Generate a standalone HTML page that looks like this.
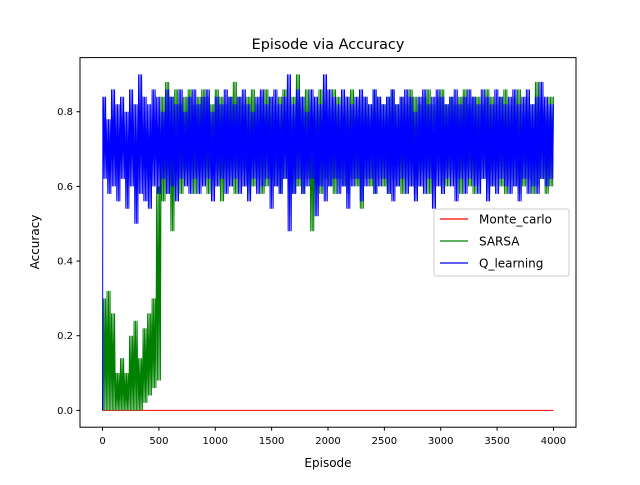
<!DOCTYPE html>
<html><head><meta charset="utf-8"><style>
body{margin:0;background:#fff;}
svg text{font-family:"DejaVu Sans","Liberation Sans",sans-serif;fill:#000;}
</style></head><body>
<svg id="chart" width="640" height="480" xmlns="http://www.w3.org/2000/svg">
<rect width="640" height="480" fill="#fff"/>
<text x="328" y="49" font-size="14.4" text-anchor="middle">Episode via Accuracy</text>
<g id="plot"></g>
<rect x="80" y="57.6" width="496" height="369.6" fill="none" stroke="#000" stroke-width="1"/>
<g id="xticks"></g><g id="yticks"></g>
<text x="328" y="467" font-size="12" text-anchor="middle">Episode</text>
<text transform="translate(39,242) rotate(-90)" font-size="12" text-anchor="middle">Accuracy</text>
<g id="legend">
<rect x="434" y="209" width="135" height="67" rx="2" fill="#fff" fill-opacity="0.8" stroke="#ccc"/>
<line x1="440" y1="219" x2="468" y2="219" stroke="red" stroke-width="1.2"/>
<text x="479" y="223.5" font-size="12">Monte_carlo</text>
<line x1="440" y1="241" x2="468" y2="241" stroke="green" stroke-width="1.2"/>
<text x="479" y="245.5" font-size="12">SARSA</text>
<line x1="440" y1="263" x2="468" y2="263" stroke="blue" stroke-width="1.2"/>
<text x="479" y="267.5" font-size="12">Q_learning</text>
</g>
</svg>
<script>
const xTicks=[0,500,1000,1500,2000,2500,3000,3500,4000];
const yTicks=[0.0,0.2,0.4,0.6,0.8];
const binSize=40;
const monteEpisodes=[0,4000];
const monteValues=[0,0];
const qStart=0.0;
const qHigh=[0.84,0.78,0.86,0.82,0.84,0.80,0.86,0.82,0.90,0.84,
0.82,0.86,0.84,0.80,0.86,0.84,0.82,0.86,0.80,0.84,
0.86,0.82,0.84,0.86,0.80,0.84,0.82,0.86,0.84,0.82,
0.84,0.86,0.82,0.80,0.84,0.86,0.82,0.84,0.86,0.82,
0.84,0.90,0.82,0.86,0.84,0.80,0.86,0.84,0.82,0.90,
0.86,0.84,0.82,0.86,0.84,0.82,0.84,0.86,0.84,0.82,
0.86,0.84,0.82,0.84,0.86,0.82,0.84,0.86,0.84,0.80,
0.84,0.86,0.82,0.84,0.86,0.84,0.82,0.84,0.86,0.82,
0.84,0.86,0.84,0.82,0.86,0.84,0.82,0.86,0.84,0.82,
0.84,0.86,0.82,0.84,0.86,0.82,0.84,0.88,0.84,0.82];
const qLow=[0.62,0.58,0.60,0.56,0.62,0.54,0.60,0.50,0.58,0.56,
0.54,0.60,0.58,0.62,0.58,0.60,0.56,0.62,0.60,0.58,
0.62,0.58,0.60,0.62,0.56,0.60,0.62,0.58,0.60,0.62,
0.58,0.60,0.56,0.62,0.58,0.60,0.62,0.54,0.60,0.58,
0.62,0.48,0.58,0.62,0.58,0.60,0.62,0.52,0.60,0.56,
0.60,0.62,0.58,0.60,0.54,0.60,0.62,0.56,0.60,0.62,
0.58,0.60,0.62,0.58,0.56,0.60,0.62,0.58,0.60,0.56,
0.60,0.58,0.62,0.54,0.60,0.58,0.62,0.60,0.56,0.62,
0.58,0.62,0.60,0.58,0.62,0.56,0.60,0.58,0.62,0.60,
0.58,0.60,0.56,0.62,0.58,0.60,0.58,0.62,0.60,0.62];
const sarsaHigh=[0.30,0.32,0.26,0.10,0.14,0.10,0.20,0.24,0.14,0.22,0.26,0.30,0.60,
0.84,0.88,0.84,0.86,0.82,0.84,0.86,0.82,0.84,0.86,
0.84,0.82,0.86,0.84,0.82,0.84,0.88,0.84,0.82,0.84,
0.86,0.82,0.84,0.86,0.84,0.82,0.84,0.86,0.82,0.84,
0.90,0.84,0.86,0.82,0.84,0.86,0.84,0.82,0.86,0.84,
0.82,0.84,0.86,0.82,0.84,0.84,0.82,0.86,0.84,0.82,
0.84,0.86,0.82,0.84,0.82,0.86,0.84,0.82,0.84,0.86,
0.82,0.84,0.86,0.82,0.84,0.82,0.84,0.86,0.82,0.84,
0.84,0.82,0.86,0.84,0.82,0.84,0.86,0.82,0.84,0.86,
0.82,0.84,0.82,0.88,0.84,0.82,0.84];
const sarsaLow=[0.00,0.00,0.00,0.00,0.00,0.00,0.00,0.00,0.00,0.02,0.04,0.06,0.08,
0.56,0.58,0.48,0.60,0.58,0.62,0.60,0.58,0.62,0.60,
0.58,0.62,0.60,0.56,0.62,0.60,0.58,0.62,0.60,0.58,
0.60,0.62,0.58,0.60,0.62,0.60,0.58,0.62,0.60,0.58,
0.60,0.58,0.62,0.48,0.60,0.58,0.62,0.60,0.58,0.62,
0.60,0.58,0.62,0.60,0.54,0.62,0.60,0.58,0.62,0.60,
0.58,0.62,0.60,0.58,0.62,0.60,0.58,0.60,0.62,0.58,
0.60,0.62,0.58,0.60,0.62,0.60,0.58,0.62,0.60,0.58,
0.60,0.62,0.58,0.60,0.62,0.60,0.58,0.62,0.60,0.58,
0.60,0.62,0.58,0.60,0.62,0.58,0.60];
const NS='http://www.w3.org/2000/svg';
const L=80,R=576,T=57.6,B=427.2,xmin=-200,xmax=4200,ymin=-0.045,ymax=0.945;
function sx(v){return L+(v-xmin)/(xmax-xmin)*(R-L);}
function sy(v){return B-(v-ymin)/(ymax-ymin)*(B-T);}
function mk(tag,attrs,parent){const e=document.createElementNS(NS,tag);for(const k in attrs)e.setAttribute(k,attrs[k]);parent.appendChild(e);return e;}
const plot=document.getElementById('plot');
function drawLine(xs,ys,color,name){
  let d='';for(let i=0;i<ys.length;i++){d+=(i?'L':'M')+sx(xs[i]).toFixed(2)+','+sy(ys[i]).toFixed(2);}
  const p=mk('path',{d:d,fill:'none',stroke:color,'stroke-width':1,'stroke-linejoin':'miter'},plot);
  
  
}
function envelope(high,low,start){
  const xs=[],ys=[];
  xs.push(0);ys.push(start);
  high.forEach((h,i)=>{
    for(let k=0;k<6;k++){xs.push(i*binSize+k*binSize/6+(i===0&&k===0?3:0));ys.push(k%2===0?h:low[i]);}
  });
  xs.push(4000);ys.push(high[high.length-1]);
  return [xs,ys];
}
drawLine(monteEpisodes,monteValues,'red','monte-carlo-line');
const s=envelope(sarsaHigh,sarsaLow,0.0);
drawLine(s[0],s[1],'green','sarsa-line');
const q=envelope(qHigh,qLow,qStart);
drawLine(q[0],q[1],'blue','q-learning-line');
const xg=document.getElementById('xticks');
xTicks.forEach(t=>{
  const x=sx(t);
  const l=mk('line',{x1:x,x2:x,y1:B,y2:B+3.5,stroke:'#000'},xg);
  
  
  const tx=mk('text',{x:x,y:B+17,'font-size':10,'text-anchor':'middle'},xg);tx.textContent=t;
  
  
});
const yg=document.getElementById('yticks');
yTicks.forEach(t=>{
  const y=sy(t);
  const l=mk('line',{x1:L-3.5,x2:L,y1:y,y2:y,stroke:'#000'},yg);
  
  
  const tx=mk('text',{x:L-7,y:y+3.5,'font-size':10,'text-anchor':'end'},yg);tx.textContent=t.toFixed(1);
  
  
});
</script>
</body></html>
